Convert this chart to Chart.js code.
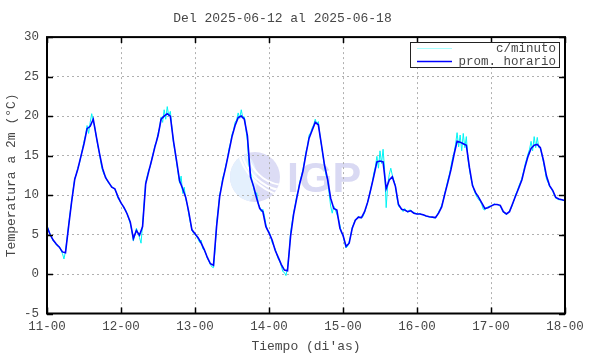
<!DOCTYPE html>
<html>
<head>
<meta charset="utf-8">
<script src="https://cdn.jsdelivr.net/npm/chart.js@4.4.0/dist/chart.umd.min.js"></script>
<style>
html, body { margin: 0; padding: 0; background: #fff; }
</style>
</head>
<body>
<canvas id="tempChart" width="590" height="354"></canvas>
<script>
var chartTitle = 'Del 2025-06-12 al 2025-06-18';
var dayLabels = ['11-00', '12-00', '13-00', '14-00', '15-00', '16-00', '17-00', '18-00'];

// promedio horario, one value per hour from 11-00
var hourlyTemp = [
    6.0, 5.0, 4.3, 3.8, 3.4, 2.8, 2.7, 6.0, 9.2, 12.0, 13.3, 14.9, 16.5, 18.4, 18.7, 19.6, 17.4, 15.3, 13.4, 12.2, 11.6, 11.0, 10.8, 9.8,
    9.0, 8.4, 7.6, 6.6, 4.5, 5.5, 4.9, 6.0, 11.4, 13.0, 14.5, 16.1, 17.5, 19.6, 20.0, 20.3, 20.0, 16.9, 14.4, 11.8, 10.8, 9.7, 7.8, 5.6,
    5.1, 4.6, 3.9, 3.1, 2.1, 1.3, 1.1, 6.0, 9.8, 11.9, 13.6, 15.5, 17.4, 18.8, 19.8, 20.0, 19.6, 17.5, 12.3, 11.1, 9.6, 8.3, 7.9, 6.0,
    5.2, 4.3, 3.0, 2.1, 1.2, 0.5, 0.4, 4.8, 7.6, 9.6, 11.5, 13.0, 15.2, 17.2, 18.2, 19.2, 18.9, 16.4, 13.8, 12.0, 9.6, 8.3, 8.1, 5.8,
    4.9, 3.5, 3.9, 5.8, 6.8, 7.2, 7.15, 7.9, 9.1, 10.7, 12.4, 14.2, 14.3, 14.2, 10.8, 11.9, 12.3, 11.1, 8.8, 8.2, 8.1, 7.9, 8.0, 7.7,
    7.6, 7.6, 7.5, 7.35, 7.25, 7.2, 7.15, 7.7, 8.5, 10.1, 11.6, 13.2, 15.1, 16.8, 16.7, 16.5, 16.3, 13.5, 11.2, 10.3, 9.7, 9.0, 8.3, 8.4,
    8.6, 8.8, 8.8, 8.7, 7.9, 7.6, 7.9, 8.9, 9.9, 10.9, 11.9, 13.5, 14.9, 15.9, 16.3, 16.4, 16.0, 14.4, 12.4, 11.2, 10.6, 9.7, 9.5, 9.4,
    9.3
];

// c/minuto, read every half hour from 11-00
var minuteTemp = [
    6.1, 5.6, 5.0, 4.6, 4.2, 4.0, 3.7, 3.5, 3.5, 3.0, 2.6, 1.9, 2.9, 4.5, 6.2, 7.8, 9.2, 10.8, 12.1, 12.6, 13.4, 14.0, 14.9, 15.8,
    16.8, 17.6, 18.8, 17.8, 19.2, 20.3, 19.3, 18.6, 17.4, 16.2, 15.3, 14.0, 13.1, 12.6, 12.4, 11.8, 11.5, 11.3, 11.1, 10.9, 10.7, 10.3, 9.6, 9.3,
    9.0, 8.7, 8.3, 8.1, 7.6, 7.0, 6.4, 5.5, 4.2, 4.9, 5.8, 5.2, 4.6, 3.9, 6.3, 9.0, 11.6, 12.4, 13.2, 13.6, 14.6, 15.4, 16.3, 16.7,
    17.8, 18.5, 19.9, 19.2, 20.8, 19.6, 21.2, 20.0, 20.6, 18.6, 16.7, 15.5, 14.2, 12.8, 11.5, 12.4, 10.2, 11.0, 9.5, 8.8, 7.5, 6.5, 5.6, 5.2,
    5.0, 4.8, 4.4, 4.0, 4.3, 3.2, 3.0, 2.6, 2.0, 1.6, 1.2, 0.9, 0.8, 3.0, 6.4, 8.2, 10.0, 11.0, 12.2, 12.8, 13.8, 14.6, 15.8, 16.6,
    17.7, 18.2, 19.2, 19.5, 20.4, 19.7, 20.8, 19.8, 19.9, 18.4, 16.8, 13.8, 12.9, 11.8, 10.9, 10.1, 10.3, 8.9, 8.5, 7.9, 8.2, 7.4, 6.3, 5.5,
    5.4, 4.8, 4.0, 3.6, 3.2, 2.5, 1.9, 1.6, 1.0, 0.3, 0.2, -0.2, 0.8, 2.5, 5.3, 6.6, 7.8, 8.8, 9.9, 10.6, 11.7, 12.4, 13.2, 14.3,
    15.5, 16.2, 17.6, 17.9, 18.5, 18.9, 19.6, 19.0, 19.3, 17.6, 16.3, 15.0, 13.6, 12.5, 12.0, 10.2, 8.6, 7.7, 8.6, 8.1, 7.6, 7.0, 6.2, 5.2,
    5.0, 4.0, 3.3, 3.5, 4.1, 4.9, 5.9, 6.4, 6.9, 7.0, 7.3, 7.1, 7.1, 7.3, 7.8, 8.4, 9.1, 9.8, 10.8, 11.6, 12.8, 13.6, 14.9, 13.4,
    15.6, 14.0, 15.8, 13.2, 8.4, 11.3, 12.6, 13.4, 12.5, 11.8, 11.2, 9.6, 8.6, 8.4, 8.2, 7.9, 8.3, 8.0, 7.8, 8.1, 8.1, 7.8, 7.8, 7.7,
    7.6, 7.6, 7.7, 7.5, 7.5, 7.4, 7.3, 7.3, 7.2, 7.2, 7.2, 7.1, 7.1, 7.4, 7.9, 8.2, 8.7, 9.3, 10.2, 11.0, 11.9, 12.6, 13.6, 14.6,
    15.3, 16.4, 17.9, 16.1, 17.6, 15.6, 17.8, 16.0, 17.4, 14.6, 13.3, 12.1, 11.4, 10.6, 10.1, 9.7, 9.4, 9.2, 8.8, 8.2, 8.1, 8.4, 8.5, 8.6,
    8.6, 8.7, 8.9, 8.8, 8.8, 8.7, 8.6, 8.2, 7.8, 7.7, 7.5, 7.7, 8.0, 8.3, 8.8, 9.4, 10.1, 10.5, 11.1, 11.6, 12.1, 12.9, 13.8, 14.5,
    15.2, 15.8, 16.8, 15.6, 17.4, 16.0, 17.3, 16.0, 16.0, 15.1, 14.2, 13.1, 12.0, 11.6, 11.1, 10.8, 10.5, 10.0, 9.6, 9.5, 9.4, 9.4, 9.4, 9.3,
    9.3
];

var textColor = '#474747';
var monoFont = "'Liberation Mono', 'DejaVu Sans Mono', monospace";
Chart.defaults.font.family = monoFont;
Chart.defaults.font.size = 12.5;
Chart.defaults.color = textColor;

// white background and the IGP watermark, under the grid
var backgroundPlugin = {
    id: 'background',
    beforeDraw: function(chart){
        var ctx = chart.ctx;
        ctx.save();
        ctx.fillStyle = '#ffffff';
        ctx.fillRect(0, 0, chart.width, chart.height);

        var cx = 255, cy = 177, r = 25;
        ctx.beginPath();
        ctx.arc(cx, cy, r, 0, Math.PI * 2);
        ctx.fillStyle = '#dcdcf5';
        ctx.fill();
        ctx.clip();
        ctx.beginPath();
        ctx.ellipse(cx - 14, cy + 2, 16, 26, 0, 0, Math.PI * 2);
        ctx.fillStyle = '#e4f0fd';
        ctx.fill();
        ctx.strokeStyle = '#ffffff';
        ctx.lineWidth = 2;
        [[cx + 30, cy - 30, 38], [cx + 34, cy - 34, 48], [cx + 40, cy - 38, 58]].forEach(function(a){
            ctx.beginPath();
            ctx.arc(a[0], a[1], a[2], 0, Math.PI * 2);
            ctx.stroke();
        });
        ctx.restore();

        ctx.save();
        ctx.font = "bold 43px 'Liberation Sans', Arial, sans-serif";
        ctx.fillStyle = '#d9d9f3';
        ctx.textBaseline = 'alphabetic';
        ctx.fillText('IGP', 287, 192);
        ctx.restore();
    }
};

// gnuplot style frame, inner ticks and key box
var framePlugin = {
    id: 'frame',
    afterDatasetsDraw: function(chart){
        var ctx = chart.ctx;
        var area = chart.chartArea;
        var xs = chart.scales.x, ys = chart.scales.y;
        var tl = 6;
        ctx.save();
        ctx.strokeStyle = '#000000';
        ctx.lineWidth = 1.5;
        ctx.beginPath();
        xs.ticks.forEach(function(t){
            var px = Math.round(xs.getPixelForValue(t.value)) + 0.5;
            ctx.moveTo(px, area.bottom); ctx.lineTo(px, area.bottom - tl);
            ctx.moveTo(px, area.top); ctx.lineTo(px, area.top + tl);
        });
        ys.ticks.forEach(function(t){
            var py = Math.round(ys.getPixelForValue(t.value)) + 0.5;
            ctx.moveTo(area.left, py); ctx.lineTo(area.left + tl, py);
            ctx.moveTo(area.right, py); ctx.lineTo(area.right - tl, py);
        });
        ctx.stroke();
        ctx.lineWidth = 2;
        ctx.strokeRect(area.left, area.top, area.right - area.left, area.bottom - area.top);

        // key
        var boxL = 410, boxT = 42, boxR = 559, boxB = 67;
        ctx.fillStyle = '#ffffff';
        ctx.fillRect(boxL, boxT, boxR - boxL, boxB - boxT);
        ctx.lineWidth = 1;
        ctx.strokeStyle = '#222222';
        ctx.strokeRect(boxL + 0.5, boxT + 0.5, boxR - boxL, boxB - boxT);
        ctx.font = '12.5px ' + monoFont;
        ctx.textAlign = 'right';
        ctx.textBaseline = 'middle';
        ctx.fillStyle = textColor;
        var rows = [48, 61];
        var keyColors = ['#a8ffff', '#0000ff'];
        chart.data.datasets.forEach(function(ds, i){
            ctx.beginPath();
            ctx.strokeStyle = keyColors[i];
            ctx.lineWidth = i === 1 ? 1.5 : 1;
            ctx.moveTo(417, rows[i] + 0.5);
            ctx.lineTo(452, rows[i] + 0.5);
            ctx.stroke();
            ctx.fillText(ds.label, 556, rows[i] + 1);
        });
        ctx.restore();
    }
};

var minutePoints = minuteTemp.map(function(v, i){ return {x: i / 2, y: v}; });
var hourlyPoints = hourlyTemp.map(function(v, i){ return {x: i, y: v}; });

var tempConfig = {
    type: 'line',
    data: {
        datasets: [{
            label: 'c/minuto',
            data: minutePoints,
            borderColor: '#00f4f4',
            borderWidth: 1,
            pointRadius: 0,
            tension: 0,
            fill: false,
            order: 1
        }, {
            label: 'prom. horario',
            data: hourlyPoints,
            borderColor: '#0000ff',
            borderWidth: 1.6,
            pointRadius: 0,
            tension: 0,
            fill: false,
            order: 0
        }]
    },
    options: {
        responsive: false,
        animation: false,
        layout: {
            padding: {left: 0, right: 25, top: 0, bottom: 0}
        },
        plugins: {
            legend: {display: false},
            tooltip: {enabled: false},
            title: {
                display: true,
                text: chartTitle,
                color: textColor,
                font: {size: 13, weight: 'normal'},
                padding: {top: 11, bottom: 10.5}
            }
        },
        scales: {
            x: {
                type: 'linear',
                min: 0,
                max: 168,
                afterFit: function(scale){ scale.height = 40.5; },
                ticks: {
                    stepSize: 24,
                    padding: 6,
                    maxRotation: 0,
                    color: textColor,
                    callback: function(value){ return dayLabels[value / 24]; }
                },
                grid: {color: '#b0b0b0', lineWidth: 1, drawTicks: false},
                border: {display: false, dash: [2, 3]},
                title: {
                    display: true,
                    text: "Tiempo (di'as)",
                    color: textColor,
                    font: {size: 13},
                    padding: {top: 0, bottom: 0}
                }
            },
            y: {
                min: -5,
                max: 30,
                afterFit: function(scale){ scale.width = 47; },
                ticks: {stepSize: 5, padding: 8, color: textColor},
                grid: {color: '#b0b0b0', lineWidth: 1, drawTicks: false},
                border: {display: false, dash: [2, 3]},
                title: {
                    display: true,
                    text: 'Temperatura a 2m (°C)',
                    color: textColor,
                    font: {size: 13},
                    padding: {top: 4, bottom: 0}
                }
            }
        }
    },
    plugins: [backgroundPlugin, framePlugin]
};

window.onload = function(){
    var ctx = document.getElementById('tempChart').getContext('2d');
    window.tempChart = new Chart(ctx, tempConfig);
};
</script>
</body>
</html>
